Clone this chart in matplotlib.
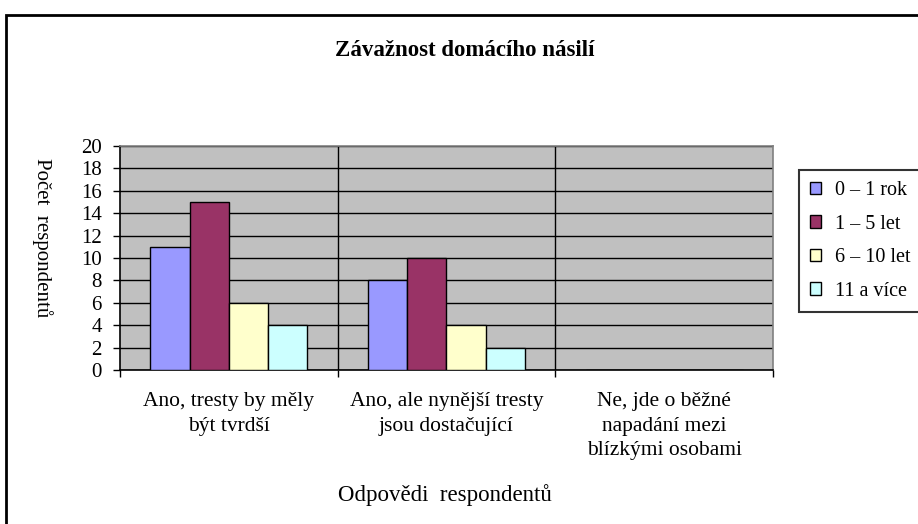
import numpy as np
import matplotlib
matplotlib.use('Agg')
import matplotlib.pyplot as plt
from matplotlib.patches import Rectangle

plt.rcParams['font.family'] = ['Liberation Serif', 'DejaVu Serif']

# data
categories = ['Ano, tresty by měly\nbýt tvrdší',
              'Ano, ale nynější tresty\njsou dostačující',
              'Ne, jde o běžné\nnapadání mezi\nblízkými osobami']
series_names = ['0 – 1 rok', '1 – 5 let', '6 – 10 let', '11 a více']
s_0_1 = [11, 8, 0]
s_1_5 = [15, 10, 0]
s_6_10 = [6, 4, 0]
s_11 = [4, 2, 0]
colors = ['#9999FF', '#993366', '#FFFFCC', '#CCFFFF']

fig = plt.figure(figsize=(9.18, 5.24), dpi=100)
ax = fig.add_axes([120/918, 1 - 370/524, (773-120)/918, (370-146)/524])
ax.set_facecolor('#C0C0C0')

x = np.arange(len(categories))
w = 0.18
for i, (vals, name) in enumerate(zip([s_0_1, s_1_5, s_6_10, s_11], series_names)):
    ax.bar(x + (i - 1.5) * w, vals, w, color=colors[i], edgecolor='black',
           linewidth=1, label=name, zorder=3)

ax.set_xlim(-0.5, 2.5)
ax.set_ylim(0, 20)
ax.set_yticks(range(0, 21, 2))
ax.yaxis.grid(True, color='black', linewidth=1, zorder=1)
for b in [0.5, 1.5]:
    ax.axvline(b, color='black', linewidth=1, zorder=1)

ax.set_xticks([-0.5, 0.5, 1.5, 2.5])
ax.set_xticklabels([])
ax.set_xticks(x, minor=True)
ax.set_xticklabels(categories, minor=True, fontsize=15.5, linespacing=1.4)
ax.tick_params(axis='x', which='minor', length=0, pad=16)
ax.tick_params(axis='x', which='major', length=5, width=1, direction='out')
ax.tick_params(axis='y', length=5, width=1, direction='out', labelsize=15, pad=8)

for s in ['left', 'bottom']:
    ax.spines[s].set_color('black')
    ax.spines[s].set_linewidth(1.2)
for s in ['top', 'right']:
    ax.spines[s].set_color('#808080')
    ax.spines[s].set_linewidth(1.2)

fig.text(465/918, 1 - 50/524, 'Závažnost domácího násilí', ha='center', va='center',
         fontsize=16.5, fontweight='bold')
fig.text(42/918, 1 - 238/524, 'Počet  respondentů', ha='center', va='center',
         rotation=-90, fontsize=15)
fig.text(445/918, 1 - 495/524, 'Odpovědi  respondentů', ha='center', va='center',
         fontsize=16.5)

leg = fig.legend(loc='upper left', bbox_to_anchor=(799/918, 1 - 170/524),
                 fontsize=14.5, frameon=True, fancybox=False, edgecolor='black',
                 handlelength=0.55, handleheight=0.55, handletextpad=0.7,
                 labelspacing=0.72, borderpad=0.55, borderaxespad=0)
leg.get_frame().set_linewidth(1.5)

# chart area border
fig.patches.append(Rectangle((6/918, -0.05), 1.0, 1 - 15/524 + 0.05,
                             transform=fig.transFigure, fill=False,
                             edgecolor='black', linewidth=2))

fig.savefig('out.png', dpi=100)
